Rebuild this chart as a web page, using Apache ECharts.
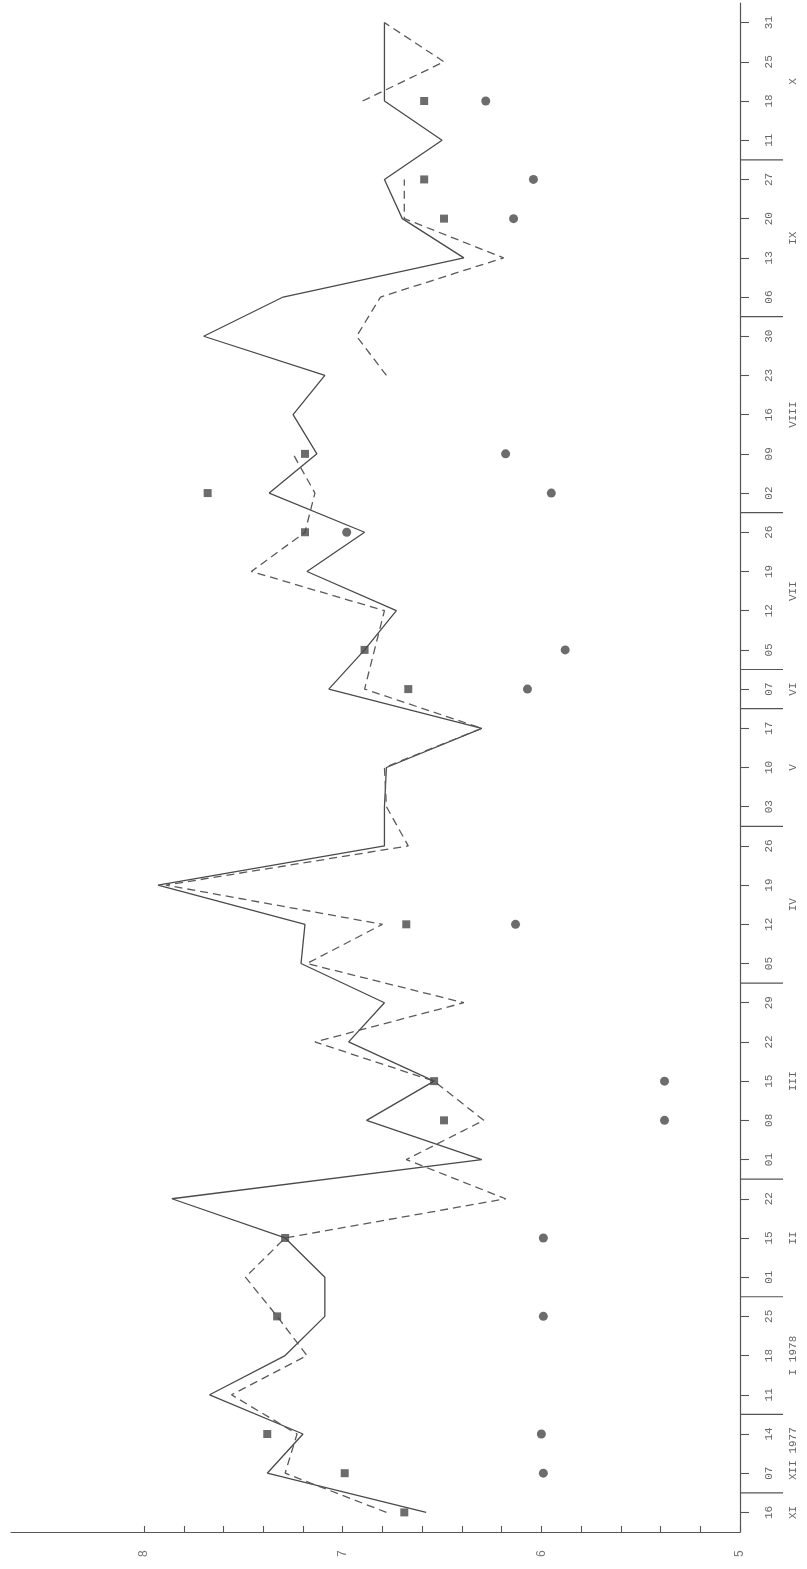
<!DOCTYPE html>
<html><head><meta charset="utf-8">
<script src="https://cdn.jsdelivr.net/npm/echarts@6/dist/echarts.min.js"></script>
<style>html,body{margin:0;padding:0;background:#fff}#c{width:807px;height:1569px}</style>
</head><body><div id="c"></div>
<script>
// Sampling dates (category axis, bottom -> top)
const dates = ['1977-11-16','1977-12-07','1977-12-14','1978-01-11','1978-01-18','1978-01-25','1978-02-01','1978-02-15','1978-02-22','1978-03-01','1978-03-08','1978-03-15','1978-03-22','1978-03-29','1978-04-05','1978-04-12','1978-04-19','1978-04-26','1978-05-03','1978-05-10','1978-05-17','1978-06-07','1978-07-05','1978-07-12','1978-07-19','1978-07-26','1978-08-02','1978-08-09','1978-08-16','1978-08-23','1978-08-30','1978-09-06','1978-09-13','1978-09-20','1978-09-27','1978-10-11','1978-10-18','1978-10-25','1978-10-31'];
// Month group labels, in order of appearance
const monthNames = ['XI','XII 1977','I 1978','II','III','IV','V','VI','VII','VIII','IX','X'];
// Solid line
const solidValues = [6.58,7.38,7.20,7.67,7.29,7.09,7.09,7.29,7.86,6.30,6.88,6.54,6.97,6.79,7.21,7.19,7.93,6.79,6.79,6.78,6.30,7.07,6.89,6.73,7.18,6.89,7.37,7.13,7.25,7.09,7.70,7.30,6.39,6.70,6.79,6.50,6.79,6.79,6.79];
// Dashed line
const dashedValues = [6.78,7.29,7.23,7.56,7.18,7.33,7.49,7.29,6.18,6.68,6.29,6.54,7.14,6.39,7.18,6.80,7.89,6.67,6.78,6.79,6.30,6.89,6.84,6.79,7.46,7.19,7.14,7.25,null,6.78,6.93,6.81,6.19,6.69,6.69,null,6.90,6.49,6.79];
// Squares
const squareValues = [6.69,6.99,7.38,null,null,7.33,null,7.29,null,null,6.49,6.54,null,null,null,6.68,null,null,null,null,null,6.67,6.89,null,null,7.19,7.68,7.19,null,null,null,null,null,6.49,6.59,null,6.59,null,null];
// Circles
const circleValues = [null,5.99,6.00,null,null,5.99,null,5.99,null,null,5.38,5.38,null,null,null,6.13,null,null,null,null,null,6.07,5.88,null,null,6.98,5.95,6.18,null,null,null,null,null,6.14,6.04,null,6.28,null,null];
// Value axis ticks and labels
const valueTicks = [5,5.2,5.4,5.6,5.8,6,6.2,6.4,6.6,6.8,7,7.2,7.4,7.6,7.8,8];
const valueLabels = [5,6,7,8];

const FONT = '"Liberation Mono","DejaVu Sans Mono",monospace';
const INK = '#4a4a4a';

// month groups from dates
const groups = [];
dates.forEach((d, i) => {
  const m = d.slice(0, 7);
  if (!groups.length || groups[groups.length - 1].m !== m) groups.push({m, s: i, e: i});
  else groups[groups.length - 1].e = i;
});
const monthData = groups.map((g, k) => [5, g.s, g.e, k]);

const chart = echarts.init(document.getElementById('c'));
chart.setOption({
  backgroundColor: '#ffffff',
  animation: false,
  grid: {left: 11, right: 67, top: 3, bottom: 37, containLabel: false, outerBoundsMode: 'none'},
  xAxis: {
    type: 'value', inverse: true, min: 5, max: 8.67, position: 'bottom',
    axisLine: {show: true, lineStyle: {color: '#555', width: 1.2}},
    axisTick: {show: true, inside: true, length: 6, customValues: valueTicks, lineStyle: {color: '#555', width: 1.1}},
    axisLabel: {customValues: valueLabels, rotate: 90, margin: 18, fontSize: 12, color: '#777', fontFamily: FONT},
    splitLine: {show: false}
  },
  yAxis: {
    type: 'category', position: 'right', data: dates, boundaryGap: true,
    axisLine: {show: true, lineStyle: {color: '#555', width: 1.2}},
    axisTick: {show: true, alignWithLabel: true, length: 9, lineStyle: {color: '#555', width: 1.1}},
    axisLabel: {interval: 0, rotate: 90, margin: 24, fontSize: 11, color: '#666', fontFamily: FONT,
      formatter: v => v.slice(8)},
    splitLine: {show: false}
  },
  series: [
    {type: 'line', data: solidValues, symbol: 'none', lineStyle: {color: INK, width: 1.3, type: 'solid'}, z: 3},
    {type: 'line', data: dashedValues, symbol: 'none', connectNulls: false, lineStyle: {color: '#5a5a5a', width: 1.3, type: [8, 5]}, z: 3},
    {type: 'scatter', data: squareValues.map((v, i) => [v, i]).filter(d => d[0] != null), symbol: 'rect', symbolSize: 8, itemStyle: {color: '#474747'}, z: 4},
    {type: 'scatter', data: circleValues.map((v, i) => [v, i]).filter(d => d[0] != null), symbol: 'circle', symbolSize: 9, itemStyle: {color: '#474747'}, z: 4},
    {type: 'custom', data: monthData, encode: {x: 0, y: 1}, clip: false, silent: true, z: 5,
      renderItem: (params, api) => {
        const s = api.value(1), e = api.value(2), k = api.value(3);
        const pS = api.coord([5, s]), pE = api.coord([5, e]);
        const yc = (pS[1] + pE[1]) / 2;
        const children = [{
          type: 'text', x: pS[0] + 53, y: yc, rotation: Math.PI / 2,
          style: {text: monthNames[k], fill: '#666', font: '11px ' + FONT, align: 'center', verticalAlign: 'middle'}
        }];
        if (s > 0) {
          const pP = api.coord([5, s - 1]);
          const ys = (pS[1] + pP[1]) / 2;
          children.push({type: 'line', shape: {x1: pS[0], y1: ys, x2: pS[0] + 43, y2: ys}, style: {stroke: '#555', lineWidth: 1.2}});
        }
        return {type: 'group', children};
      }
    }
  ]
});
</script></body></html>
